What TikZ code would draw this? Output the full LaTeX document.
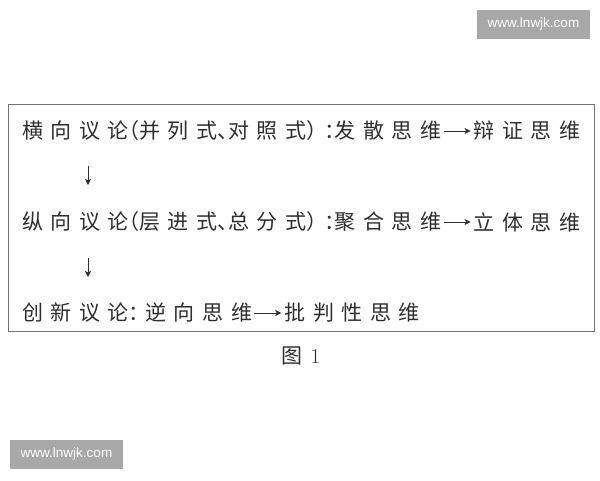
\documentclass[tikz,border=0pt]{standalone}
\usepackage{fontspec}
\usetikzlibrary{positioning,arrows.meta}
\newfontfamily\cjkzeile[LetterSpace=36]{Noto Sans CJK SC}
\newfontfamily\cjkschlicht{Noto Sans CJK SC}
\newfontfamily\marktext{Liberation Sans}
\newcommand\halb[1]{{\addfontfeature{RawFeature=+halt}#1}}

\tikzset{
	zeile/.style={anchor=west, inner sep=0pt, text=black!82,
		font=\cjkzeile\fontsize{21pt}{21pt}\selectfont},
	folge/.style={line width=0.8pt, draw=black!82,
		-{Stealth[length=6pt, width=6pt, inset=1.5pt]}},
	titelstil/.style={inner sep=0pt, text=black!82,
		font=\cjkschlicht\fontsize{21pt}{21pt}\selectfont},
	rahmen/.style={line width=0.8pt, draw=black!55},
	marke/.style={fill=black!34, text=white, inner sep=0pt,
		minimum width=113pt, minimum height=29pt,
		font=\marktext\fontsize{13.5pt}{13.5pt}\selectfont}
}

\begin{document}
\begin{tikzpicture}[x=1pt, y=-1pt]
			%%%%% START %%%%%
			
			\useasboundingbox (0, 0) rectangle (600, 480);
			
			\node[marke] (marke1) at (533.5, 24.5) {www.lnwjk.com};
			
			\draw[rahmen] (8, 104) rectangle (594, 331);
			
			\node[zeile] (links1) at (22, 131) {横向议论\halb{（}并列式\halb{、}对照式\halb{）}\halb{：}发散思维};
			\node[zeile, right=32pt of links1] (rechts1) {辩证思维};
			\draw[folge, shorten <=2pt, shorten >=3pt] (links1) -- (rechts1);
			
			\coordinate (oben1) at (88, 166);
			\coordinate (unten1) at (88, 185);
			\draw[folge] (oben1) -- (unten1);
			
			\node[zeile] (links2) at (22, 222) {纵向议论\halb{（}层进式\halb{、}总分式\halb{）}\halb{：}聚合思维};
			\node[zeile, right=32pt of links2] (rechts2) {立体思维};
			\draw[folge, shorten <=2pt, shorten >=3pt] (links2) -- (rechts2);
			
			\coordinate (oben2) at (88, 258);
			\coordinate (unten2) at (88, 277);
			\draw[folge] (oben2) -- (unten2);
			
			\node[zeile] (links3) at (22, 313) {创新议论\halb{：}\hspace{6pt}逆向思维};
			\node[zeile, right=32pt of links3] (rechts3) {批判性思维};
			\draw[folge, shorten <=2pt, shorten >=3pt] (links3) -- (rechts3);
			
			\node[titelstil] (titel) at (301, 356) {图\hspace{8pt}{\rmfamily 1}};
			
			\node[marke] (marke2) at (66.5, 454.5) {www.lnwjk.com};
			
			%%%%% END %%%%%
\end{tikzpicture}
\end{document}
